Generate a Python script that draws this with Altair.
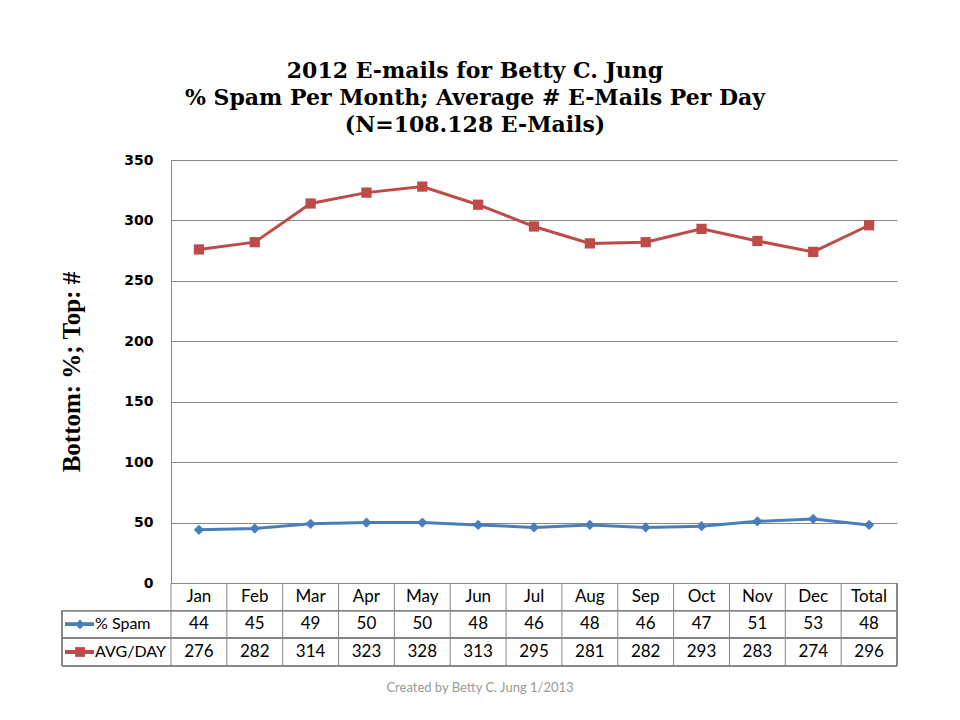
import altair as alt
import pandas as pd

# ---- data -------------------------------------------------------------
months = ["Jan", "Feb", "Mar", "Apr", "May", "Jun", "Jul", "Aug", "Sep",
          "Oct", "Nov", "Dec", "Total"]
spam_pct = [44, 45, 49, 50, 50, 48, 46, 48, 46, 47, 51, 53, 48]
avg_per_day = [276, 282, 314, 323, 328, 313, 295, 281, 282, 293, 283, 274, 296]
series_names = ["% Spam", "AVG/DAY"]
series_colors = ["#4A7EBB", "#BE4B48"]
series_shapes = ["diamond", "square"]
y_ticks = [0, 50, 100, 150, 200, 250, 300, 350]

title_lines = [
    "2012 E-mails for Betty C. Jung",
    "% Spam Per Month; Average # E-Mails Per Day",
    "(N=108.128 E-Mails)",
]
y_title = "Bottom: %; Top: #"
footer = "Created by Betty C. Jung 1/2013"

# ---- layout -----------------------------------------------------------
W, H = 726, 423              # plot area
ROW_H = 27.6                  # data-table row height
TABLE_LEFT = -109             # left edge of the series-name column
GRID = "#868686"
TABLE_FONT = "Lato"

lines_df = pd.DataFrame({
    "month": months * 2,
    "series": [series_names[0]] * len(months) + [series_names[1]] * len(months),
    "value": spam_pct + avg_per_day,
})
header_df = pd.DataFrame({"month": months})
spam_df = pd.DataFrame({"month": months, "label": [str(v) for v in spam_pct]})
avg_df = pd.DataFrame({"month": months, "label": [str(v) for v in avg_per_day]})

x_month = alt.X("month:N", sort=months,
                scale=alt.Scale(domain=months, paddingInner=0, paddingOuter=0),
                axis=None)
color = alt.Color("series:N", scale=alt.Scale(domain=series_names, range=series_colors),
                  legend=None)
shape = alt.Shape("series:N", scale=alt.Scale(domain=series_names, range=series_shapes),
                  legend=None)

y_val = alt.Y(
    "value:Q",
    scale=alt.Scale(domain=[0, 350], nice=False, zero=True),
    axis=alt.Axis(
        values=y_ticks, grid=True, gridColor=GRID, gridWidth=1, gridOpacity=1,
        domain=True, domainColor=GRID, domainWidth=1, ticks=False,
        labelFont="DejaVu Sans", labelFontWeight="bold", labelFontSize=14,
        labelColor="black", labelPadding=18,
        title=y_title, titleFont="Liberation Serif", titleFontSize=25,
        titleFontWeight="bold", titleColor="black", titlePadding=39,
    ),
)

base = alt.Chart(lines_df)
series_lines = base.mark_line(strokeWidth=3).encode(x=x_month, y=y_val, color=color)
series_points = base.mark_point(filled=True, size=105, opacity=1).encode(
    x=x_month, y=y_val, color=color, shape=shape)

# ---- data table under the plot ---------------------------------------
row_mid = [H + ROW_H * (i + 0.5) for i in range(3)]
row_edge = [H + ROW_H * i for i in range(4)]

text_style = dict(font=TABLE_FONT, fontSize=17, color="black", baseline="middle",
                  align="center")
header_text = alt.Chart(header_df).mark_text(**text_style).encode(
    x=x_month, y=alt.value(row_mid[0]), text="month:N")
spam_text = alt.Chart(spam_df).mark_text(**text_style).encode(
    x=x_month, y=alt.value(row_mid[1]), text="label:N")
avg_text = alt.Chart(avg_df).mark_text(**text_style).encode(
    x=x_month, y=alt.value(row_mid[2]), text="label:N")

col_lines = alt.Chart(header_df).mark_rule(color=GRID, strokeWidth=1).encode(
    x=alt.X("month:N", sort=months, bandPosition=0,
            scale=alt.Scale(domain=months, paddingInner=0, paddingOuter=0), axis=None),
    y=alt.value(row_edge[0]), y2=alt.value(row_edge[3]))

rule_layers = [
    alt.Chart(header_df).mark_rule(color=GRID, strokeWidth=1).encode(
        x=alt.value(W), x2=alt.value(W), y=alt.value(row_edge[0]), y2=alt.value(row_edge[3])),
    alt.Chart(header_df).mark_rule(color=GRID, strokeWidth=1).encode(
        x=alt.value(TABLE_LEFT), x2=alt.value(TABLE_LEFT),
        y=alt.value(row_edge[1]), y2=alt.value(row_edge[3])),
]
for yy in row_edge[1:]:
    rule_layers.append(
        alt.Chart(header_df).mark_rule(color=GRID, strokeWidth=1).encode(
            x=alt.value(TABLE_LEFT), x2=alt.value(W), y=alt.value(yy), y2=alt.value(yy)))

# legend keys inside the series-name column
key_layers = []
for i, (name, col, shp) in enumerate(zip(series_names, series_colors, series_shapes)):
    yy = row_mid[i + 1]
    key_layers.append(
        alt.Chart(header_df).mark_rule(color=col, strokeWidth=3).encode(
            x=alt.value(TABLE_LEFT + 3), x2=alt.value(TABLE_LEFT + 32),
            y=alt.value(yy), y2=alt.value(yy)))
    key_layers.append(
        alt.Chart(pd.DataFrame({"series": [name]})).mark_point(
            filled=True, size=95, opacity=1, color=col, shape=shp).encode(
            x=alt.value(TABLE_LEFT + 18), y=alt.value(yy)))
    key_layers.append(
        alt.Chart(pd.DataFrame({"series": [name]})).mark_text(
            font=TABLE_FONT, fontSize=16, color="black", baseline="middle",
            align="left").encode(
            x=alt.value(TABLE_LEFT + 33), y=alt.value(yy), text="series:N"))

footer_text = alt.Chart(pd.DataFrame({"t": [footer]})).mark_text(
    font=TABLE_FONT, fontSize=13, color="#999999", align="center",
    baseline="middle").encode(x=alt.value(309), y=alt.value(528), text="t:N")

chart = alt.layer(
    *rule_layers, col_lines, series_lines, series_points,
    header_text, spam_text, avg_text, *key_layers, footer_text,
).properties(
    width=W, height=H,
    title=alt.TitleParams(
        text=title_lines, font="DejaVu Serif", fontSize=22, fontWeight="bold",
        lineHeight=27, color="black", anchor="middle", dx=-59, offset=16),
    autosize=alt.AutoSizeParams(type="none"),
    padding={"left": 171, "top": 160, "right": 63, "bottom": 137},
    background="white",
).configure_view(stroke=None)

chart.save("out.html", embed_options={"renderer": "svg", "actions": False})
